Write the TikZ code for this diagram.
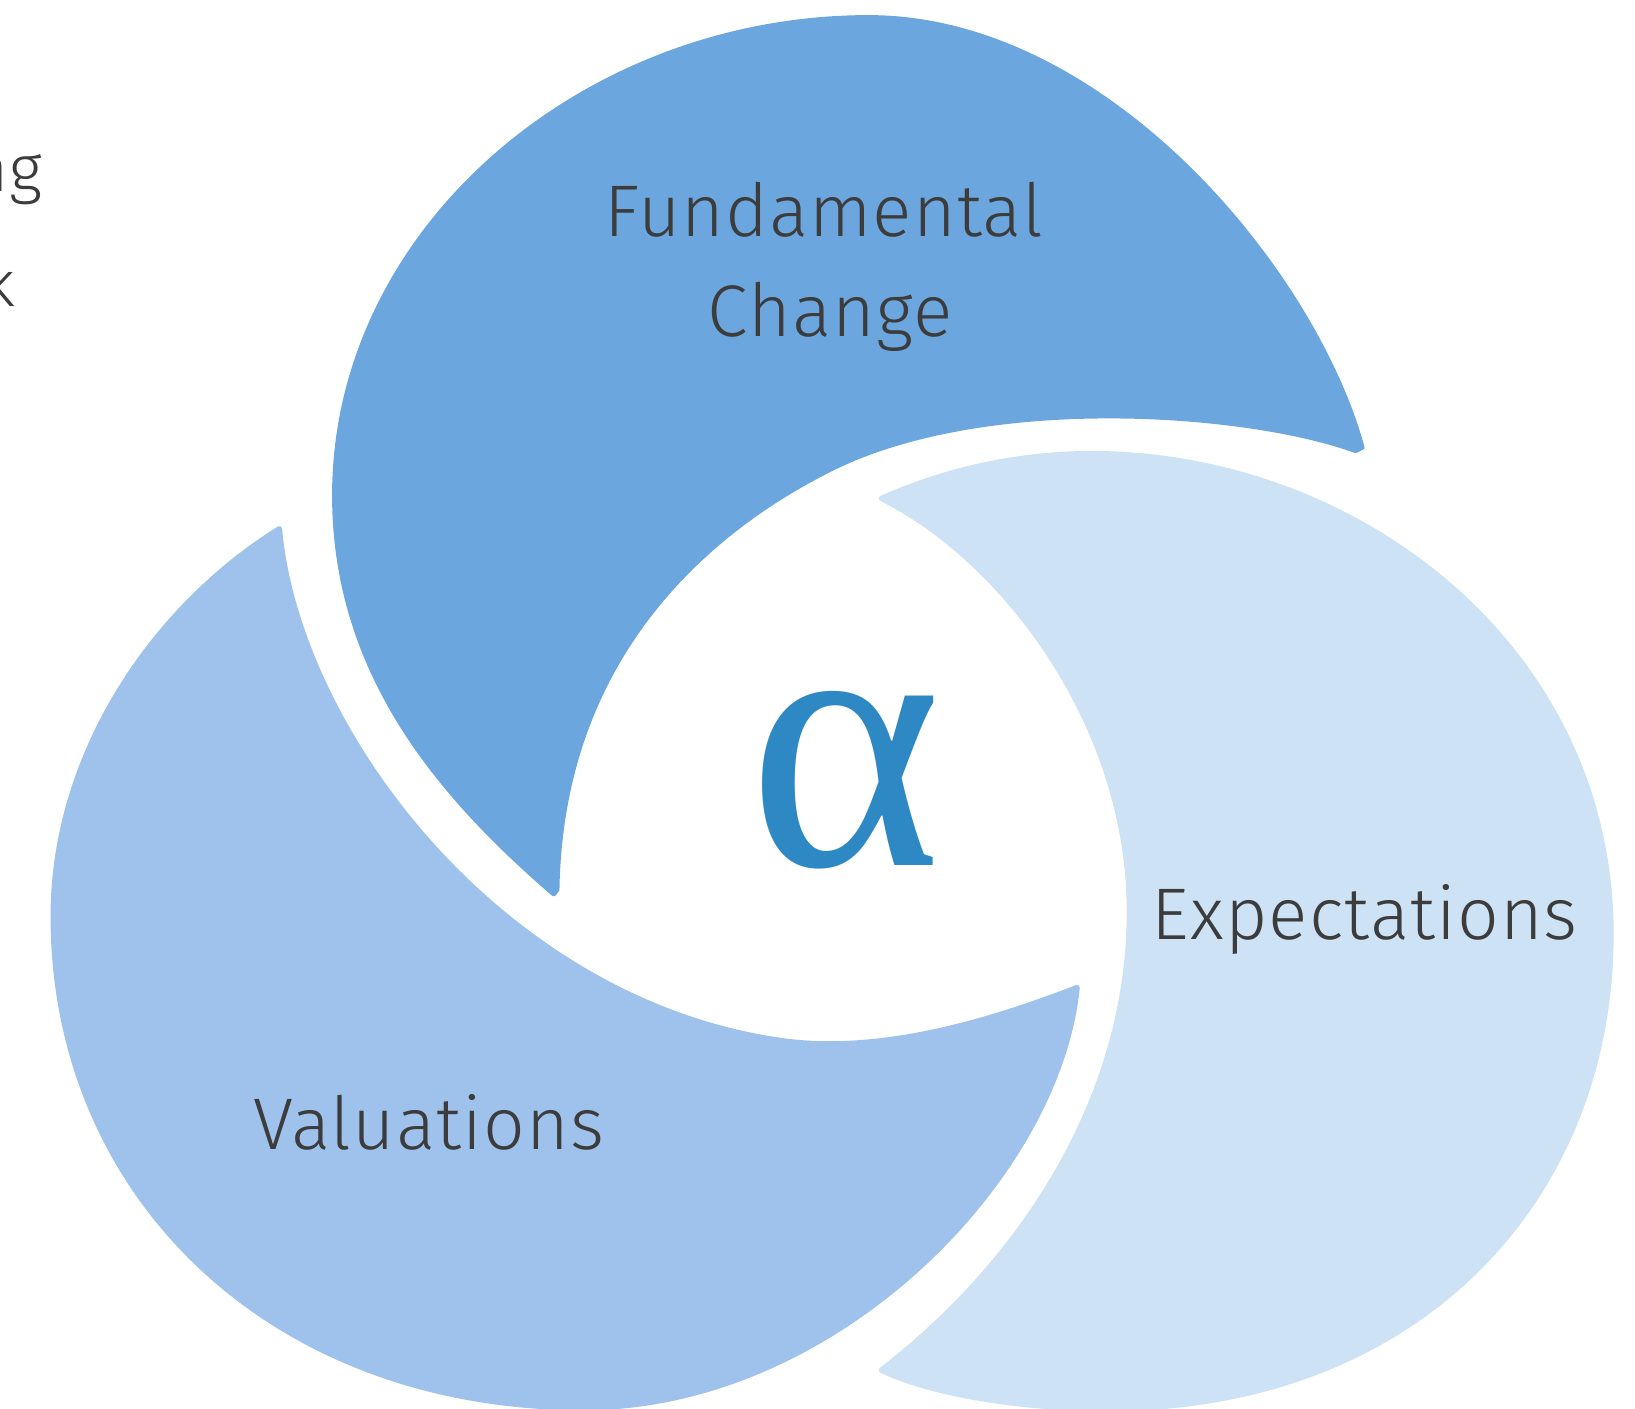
\documentclass[tikz,border=0pt]{standalone}
\usepackage{fontspec}
\setmainfont{Fira Sans Light}[LetterSpace=1.5]
\newfontfamily\greekfont{Liberation Serif}
\usepackage{tikz}

\definecolor{fundblue}{HTML}{6CA6DF}
\definecolor{valblue}{HTML}{9EC2EB}
\definecolor{expblue}{HTML}{CDE2F5}
\definecolor{alphablue}{HTML}{2E88C4}
\definecolor{textgray}{HTML}{3C3C3C}

\begin{document}
\begin{tikzpicture}[x=0.010427cm, y=-0.010427cm,
        lobe/.style={line width=1.5pt, line join=round},
        lobetext/.style={text=textgray, font=\fontsize{20.8}{24}\selectfont, inner sep=0pt, anchor=base}]
        \useasboundingbox (0,0) rectangle (1568,1351);

        % Expectations lobe (right)
        \fill [lobe, fill=expblue, draw=expblue] (845,478)
            .. controls (960,535) and (1080,690) .. (1083,867)
            .. controls (1086,1050) and (980,1210) .. (845,1314)
            .. controls (900,1340) and (990,1351) .. (1062,1351)
            .. controls (1360,1351) and (1545,1150) .. (1545,896)
            .. controls (1545,620) and (1300,435) .. (1047,435)
            .. controls (960,435) and (890,458) .. cycle;

        % Valuations lobe (left)
        \fill [lobe, fill=valblue, draw=valblue] (268,507)
            .. controls (285,700) and (480,960) .. (750,998)
            .. controls (850,1012) and (960,975) .. (1033,947)
            .. controls (1015,1130) and (800,1350) .. (560,1350)
            .. controls (260,1350) and (51,1147) .. (51,879)
            .. controls (51,720) and (150,580) .. cycle;

        % Fundamental Change lobe (top)
        \fill [lobe, fill=fundblue, draw=fundblue] (531,857)
            .. controls (421,762) and (321,645) .. (321,475)
            .. controls (321,220) and (560,17) .. (833,17)
            .. controls (1060,17) and (1260,260) .. (1306,429)
            -- (1300,432)
            .. controls (1200,395) and (950,375) .. (800,448)
            .. controls (690,502) and (538,620) .. (534,853) -- cycle;

        % Labels
        \node (fundamental) [lobetext] at (790,227) {Fundamental};
        \node (change) [lobetext] at (796,323) {Change};
        \node (expectations) [lobetext] at (1309,901) {Expectations};
        \node (valuations) [lobetext] at (411,1102) {Valuations};
        \node (alpha) [inner sep=0pt, anchor=base, text=alphablue, font=\greekfont\fontsize{105}{110}\selectfont] at (811,830) {α};

        % Words running in from the left edge
        \node (wordng) [lobetext, anchor=base east, font=\fontsize{18.5}{22}\selectfont] at (41,184) {ng};
        \node (wordk) [lobetext, anchor=base east, font=\fontsize{18.5}{22}\selectfont] at (15,294) {k};
\end{tikzpicture}
\end{document}
